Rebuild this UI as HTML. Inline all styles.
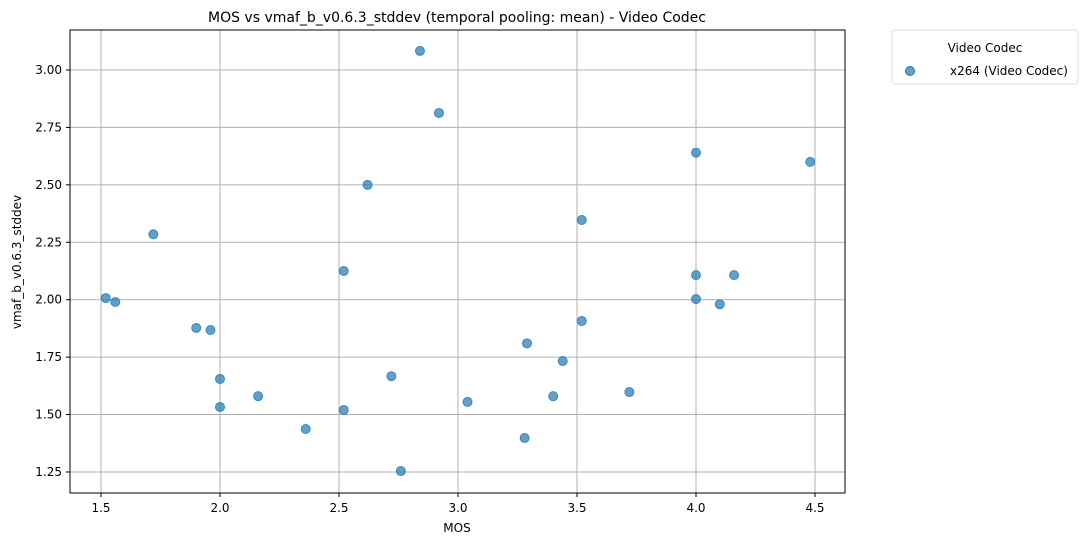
<!DOCTYPE html>
<html><head><meta charset="utf-8"><style>
body{margin:0;background:#fff;font-family:"Liberation Sans","DejaVu Sans",sans-serif}
text{font-family:"DejaVu Sans","Liberation Sans",sans-serif}
</style></head><body>
<svg id="chart" width="1087" height="545" xmlns="http://www.w3.org/2000/svg">
<text x="457" y="22" font-size="14" text-anchor="middle">MOS vs vmaf_b_v0.6.3_stddev (temporal pooling: mean) - Video Codec</text>
<g id="grid"></g><g id="ticks"></g><g id="pts"></g>
<rect x="70" y="30" width="775" height="463" fill="none" stroke="#000" stroke-width="1"/>
<text x="457" y="532" font-size="12" text-anchor="middle">MOS</text>
<text transform="translate(21,262) rotate(-90)" font-size="12" text-anchor="middle">vmaf_b_v0.6.3_stddev</text>
<g>
<rect x="892" y="30" width="186" height="54" rx="3" fill="#fff" stroke="#ddd"/>
<text x="985" y="52" font-size="12" text-anchor="middle">Video Codec</text>
<circle cx="910" cy="71" r="4.5" fill="#1f77b4" fill-opacity="0.7" stroke="#1f77b4"/>
<text x="950" y="75" font-size="12">x264 (Video Codec)</text>
</g>
</svg>
<script>
const mos=[1.52,1.56,1.72,1.90,1.96,2.00,2.00,2.16,2.36,2.52,2.52,2.62,2.72,2.76,2.84,2.92,3.04,3.28,3.29,3.40,3.44,3.52,3.52,3.72,4.00,4.00,4.00,4.10,4.16,4.48];
const vmaf=[2.007,1.99,2.285,1.877,1.868,1.655,1.533,1.58,1.437,2.125,1.52,2.50,1.667,1.254,3.083,2.813,1.555,1.398,1.81,1.58,1.733,2.347,1.907,1.598,2.64,2.107,2.003,1.98,2.107,2.60];
const xTicks=[1.5,2.0,2.5,3.0,3.5,4.0,4.5];
const yTicks=[1.25,1.50,1.75,2.00,2.25,2.50,2.75,3.00];
const X=v=>101+(v-1.5)*238;
const Y=v=>70+(3-v)*229.7;
const NS="http://www.w3.org/2000/svg";
function mk(t,a,p){const e=document.createElementNS(NS,t);for(const k in a)e.setAttribute(k,a[k]);p.appendChild(e);return e;}
const g=document.getElementById('grid'),tk=document.getElementById('ticks'),pts=document.getElementById('pts');
xTicks.forEach(v=>{
 const l=mk('line',{x1:X(v),x2:X(v),y1:30,y2:493,stroke:'#b0b0b0','stroke-width':1},g);
 
 
 mk('line',{x1:X(v),x2:X(v),y1:493,y2:497,stroke:'#000'},tk);
 const t=mk('text',{x:X(v),y:512,'font-size':12,'text-anchor':'middle'},tk);t.textContent=v.toFixed(1);
 
 
});
yTicks.forEach(v=>{
 const l=mk('line',{x1:70,x2:845,y1:Y(v),y2:Y(v),stroke:'#b0b0b0','stroke-width':1},g);
 
 
 mk('line',{x1:66,x2:70,y1:Y(v),y2:Y(v),stroke:'#000'},tk);
 const t=mk('text',{x:62,y:Y(v)+4,'font-size':12,'text-anchor':'end'},tk);t.textContent=v.toFixed(2);
 
 
});
mos.forEach((m,i)=>{
 const c=mk('circle',{cx:X(m),cy:Y(vmaf[i]),r:4.5,fill:'#1f77b4','fill-opacity':0.7,stroke:'#1f77b4','stroke-opacity':0.8},pts);
 
 
});
</script>
</body></html>
